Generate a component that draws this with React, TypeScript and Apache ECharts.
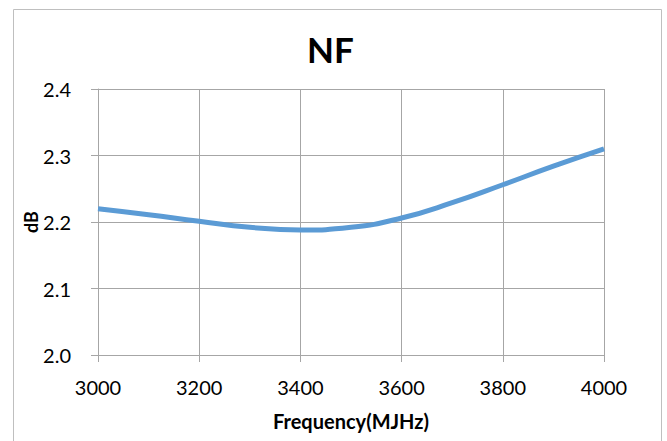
import React, { useEffect, useRef } from "react";
import * as echarts from "echarts";

const frequencies = [3000, 3100, 3200, 3300, 3400, 3500, 3600, 3700, 3800, 3900, 4000];
const nfValues = [2.22, 2.211, 2.201, 2.192, 2.188, 2.192, 2.206, 2.229, 2.256, 2.284, 2.31];
const chartTitle = "NF";
const xAxisName = "Frequency(MJHz)";
const yAxisName = "dB";

export default function App() {
  const ref = useRef<HTMLDivElement>(null);
  useEffect(() => {
    document.body.style.margin = "0";
    if (!ref.current) return;
    const chart = echarts.init(ref.current, undefined, { renderer: "svg" });
    const font = "Lato";
    chart.setOption({
      animation: false,
      backgroundColor: "#ffffff",
      title: {
        text: chartTitle,
        left: 307,
        top: 31,
        padding: 0,
        textStyle: { fontFamily: font, fontSize: 35, fontWeight: "bold", color: "#000" },
      },
      graphic: [
        {
          type: "rect",
          shape: { x: 13.5, y: 9.5, width: 648, height: 440 },
          style: { fill: "none", stroke: "#BFBFBF", lineWidth: 1 },
          silent: true,
        },
      ],
      grid: { left: 98, right: 63, top: 89, bottom: 86, containLabel: false },
      xAxis: {
        type: "value",
        min: 3000,
        max: 4000,
        interval: 200,
        name: xAxisName,
        nameLocation: "middle",
        nameGap: 56,
        nameMoveOverlap: false,
        nameTextStyle: { fontFamily: font, fontSize: 20, fontWeight: "bold", color: "#000" },
        axisLine: { show: true, lineStyle: { color: "#A6A6A6", width: 1 } },
        axisTick: { show: true, inside: false, length: 7, lineStyle: { color: "#A6A6A6" } },
        axisLabel: {
          margin: 22,
          fontFamily: font,
          fontSize: 20,
          color: "#000",
          formatter: (v: number) => String(v),
        },
        splitLine: { show: true, lineStyle: { color: "#A6A6A6", width: 1 } },
      },
      yAxis: {
        type: "value",
        min: 2.0,
        max: 2.4,
        interval: 0.1,
        name: yAxisName,
        nameLocation: "middle",
        nameRotate: 90,
        nameGap: 58,
        nameMoveOverlap: false,
        nameTextStyle: { fontFamily: font, fontSize: 18, fontWeight: "bold", color: "#000" },
        axisLine: { show: true, lineStyle: { color: "#A6A6A6", width: 1 } },
        axisTick: { show: true, inside: false, length: 7, lineStyle: { color: "#A6A6A6" } },
        axisLabel: {
          margin: 27,
          fontFamily: font,
          fontSize: 20,
          color: "#000",
          formatter: (v: number) => v.toFixed(1),
        },
        splitLine: { show: true, lineStyle: { color: "#A6A6A6", width: 1 } },
      },
      series: [
        {
          type: "line",
          data: frequencies.map((f, i) => [f, nfValues[i]]),
          smooth: true,
          showSymbol: false,
          symbol: "none",
          lineStyle: { color: "#5B9BD5", width: 5 },
          itemStyle: { color: "#5B9BD5" },
        },
      ],
    });
    return () => chart.dispose();
  }, []);
  return <div ref={ref} style={{ width: 667, height: 441 }} />;
}
